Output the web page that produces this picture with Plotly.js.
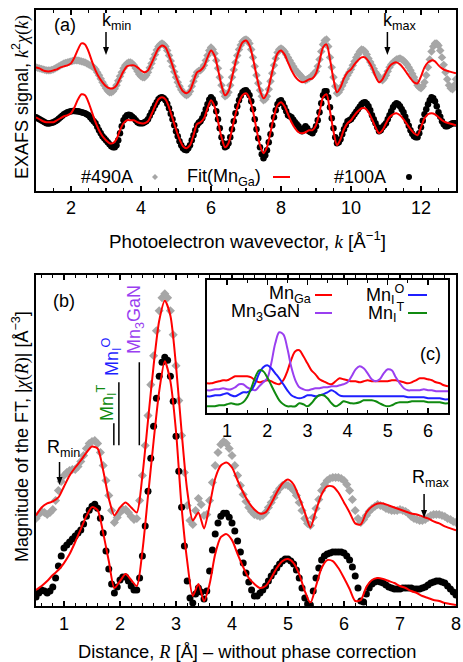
<!DOCTYPE html>
<html><head><meta charset="utf-8">
<script src="https://cdn.plot.ly/plotly-3.0.1.min.js"></script>
<style>body{margin:0;background:#fff}#g{width:463px;height:662px}</style>
</head><body><div id="g"></div>
<script>
// ---------- panel (a): EXAFS k-space ----------
const kData = [1.00,1.05,1.10,1.15,1.20,1.25,1.30,1.35,1.40,1.45,1.50,1.55,1.60,1.65,1.70,1.75,1.80,1.85,1.90,1.95,2.00,2.05,2.10,2.15,2.20,2.25,2.30,2.35,2.40,2.45,2.50,2.55,2.60,2.65,2.70,2.75,2.80,2.85,2.90,2.95,3.00,3.05,3.10,3.15,3.20,3.25,3.30,3.35,3.40,3.45,3.50,3.55,3.60,3.65,3.70,3.75,3.80,3.85,3.90,3.95,4.00,4.05,4.10,4.15,4.20,4.25,4.30,4.35,4.40,4.45,4.50,4.55,4.60,4.65,4.70,4.75,4.80,4.85,4.90,4.95,5.00,5.05,5.10,5.15,5.20,5.25,5.30,5.35,5.40,5.45,5.50,5.55,5.60,5.65,5.70,5.75,5.80,5.85,5.90,5.95,6.00,6.05,6.10,6.15,6.20,6.25,6.30,6.35,6.40,6.45,6.50,6.55,6.60,6.65,6.70,6.75,6.80,6.85,6.90,6.95,7.00,7.05,7.10,7.15,7.20,7.25,7.30,7.35,7.40,7.45,7.50,7.55,7.60,7.65,7.70,7.75,7.80,7.85,7.90,7.95,8.00,8.05,8.10,8.15,8.20,8.25,8.30,8.35,8.40,8.45,8.50,8.55,8.60,8.65,8.70,8.75,8.80,8.85,8.90,8.95,9.00,9.05,9.10,9.15,9.20,9.25,9.30,9.35,9.40,9.45,9.50,9.55,9.60,9.65,9.70,9.75,9.80,9.85,9.90,9.95,10.00,10.05,10.10,10.15,10.20,10.25,10.30,10.35,10.40,10.45,10.50,10.55,10.60,10.65,10.70,10.75,10.80,10.85,10.90,10.95,11.00,11.05,11.10,11.15,11.20,11.25,11.30,11.35,11.40,11.45,11.50,11.55,11.60,11.65,11.70,11.75,11.80,11.85,11.90,11.95,12.00,12.05,12.10,12.15,12.20,12.25,12.30,12.35,12.40,12.45,12.50,12.55,12.60,12.65,12.70,12.75,12.80,12.85,12.90,12.95,13.00];
const sample490A_k = [0.0,-0.05,-0.1,-0.15,-0.2,-0.25,-0.3,-0.3,-0.3,-0.25, -0.2,-0.1,0.0,0.1,0.2,0.3,0.4,0.45,0.5,0.55, 0.6,0.65,0.7,0.7,0.7,0.65,0.6,0.55,0.5,0.4, 0.3,0.2,0.1,0.0,-0.2,-0.5,-0.8,-1.15,-1.5,-1.8, -2.1,-2.35,-2.5,-2.5,-2.4,-2.15,-1.8,-1.35,-0.9,-0.5, -0.1,0.2,0.4,0.5,0.5,0.4,0.2,-0.1,-0.4,-0.7, -0.9,-1.0,-1.0,-0.8,-0.5,-0.05,0.4,0.85,1.3,1.75, 2.1,2.3,2.4,2.3,2.1,1.7,1.2,0.65,0.1,-0.45, -1.0,-1.5,-1.9,-2.25,-2.5,-2.7,-2.8,-2.7,-2.4,-1.9, -1.4,-0.9,-0.5,-0.35,-0.3,-0.1,0.2,0.7,1.2,1.7, 2.0,1.8,1.4,0.7,-0.1,-1.0,-1.8,-2.45,-2.9,-2.8, -2.5,-1.8,-1.0,-0.25,0.5,1.2,1.8,2.25,2.6,2.75, 2.8,2.7,2.4,1.8,1.0,0.1,-0.8,-1.6,-2.3,-2.9, -3.3,-3.2,-2.9,-2.2,-1.4,-0.6,0.2,0.9,1.5,1.8, 1.9,1.8,1.6,1.3,1.0,0.7,0.4,0.1,-0.2,-0.4, -0.6,-0.8,-1.0,-1.2,-1.3,-1.2,-1.1,-0.95,-0.8,-0.6, -0.4,0.1,0.8,1.6,2.3,2.7,2.8,2.1,1.0,0.0, -1.0,-1.9,-2.6,-2.5,-2.2,-1.85,-1.5,-1.15,-0.8,-0.5, -0.2,0.2,0.6,1.0,1.3,1.6,1.8,1.75,1.6,1.3, 0.9,0.55,0.2,-0.15,-0.5,-0.75,-1.0,-1.2,-1.3,-1.1, -0.8,-0.4,0.0,0.3,0.5,0.65,0.8,0.85,0.9,0.8, 0.7,0.5,0.3,0.0,-0.3,-0.65,-1.0,-1.4,-1.8,-2.0, -2.1,-1.9,-1.5,-0.8,0.0,0.8,1.6,2.1,2.4,2.4, 2.2,1.7,1.0,0.25,-0.5,-1.2,-1.8,-2.1,-2.2,-1.8, -1.2];
const sample100A_k = [0.0,-0.1,-0.2,-0.3,-0.4,-0.5,-0.6,-0.62,-0.6,-0.55, -0.5,-0.4,-0.3,-0.15,0.0,0.15,0.3,0.4,0.5,0.55, 0.6,0.62,0.62,0.6,0.6,0.55,0.5,0.45,0.4,0.3, 0.2,0.0,-0.2,-0.4,-0.6,-0.95,-1.3,-1.6,-1.9,-2.1, -2.3,-2.5,-2.7,-2.9,-3.0,-3.0,-2.8,-2.3,-1.6,-0.9, -0.3,0.0,0.2,0.25,0.2,0.05,-0.1,-0.3,-0.5,-0.6, -0.6,-0.6,-0.5,-0.4,-0.2,0.15,0.5,0.85,1.2,1.5, 1.8,1.95,2.0,1.9,1.7,1.35,0.9,0.35,-0.2,-0.8, -1.4,-1.9,-2.4,-2.8,-3.1,-3.25,-3.3,-3.1,-2.8,-2.3, -1.8,-1.3,-0.8,-0.55,-0.4,-0.1,0.3,0.8,1.3,1.75, 2.0,1.8,1.4,0.6,-0.2,-1.1,-2.0,-2.6,-3.0,-2.9, -2.6,-2.0,-1.2,-0.4,0.4,1.1,1.7,2.15,2.5,2.65, 2.7,2.5,2.2,1.6,0.8,-0.2,-1.2,-2.1,-3.0,-3.7, -4.1,-3.8,-3.3,-2.5,-1.7,-0.8,0.0,0.7,1.3,1.6, 1.7,1.4,1.0,0.6,0.2,0.1,0.0,-0.25,-0.5,-0.7, -0.9,-1.2,-1.4,-1.1,-0.9,-1.1,-1.4,-1.5,-1.6,-1.3, -0.9,-0.3,0.5,1.4,2.2,2.6,2.6,2.0,1.0,-0.1, -1.1,-2.0,-2.6,-2.5,-2.2,-1.7,-1.2,-0.8,-0.4,-0.3, -0.2,0.05,0.3,0.55,0.8,1.05,1.3,1.45,1.5,1.35, 1.1,0.7,0.2,-0.2,-0.6,-1.0,-1.4,-1.3,-1.0,-0.8, -0.6,-0.2,0.2,0.6,1.0,1.25,1.4,1.3,1.1,0.8, 0.5,0.05,-0.4,-0.85,-1.3,-1.65,-1.9,-2.0,-2.0,-1.6, -1.0,-0.35,0.3,0.8,1.3,1.7,2.0,1.9,1.6,1.1, 0.5,0.05,-0.4,-0.7,-0.9,-0.9,-0.8,-0.7,-0.6,-0.6, -0.6];
const kFit = [1.0,1.1,1.2,1.3,1.4,1.5,1.6,1.7,1.8,1.9,2.0,2.1,2.2,2.3,2.4,2.5,2.6,2.7,2.8,2.9,3.0,3.1,3.2,3.3,3.4,3.5,3.6,3.7,3.8,3.9,4.0,4.1,4.2,4.3,4.4,4.5,4.6,4.7,4.8,4.9,5.0,5.1,5.2,5.3,5.4,5.5,5.6,5.7,5.8,5.9,6.0,6.1,6.2,6.3,6.4,6.5,6.6,6.7,6.8,6.9,7.0,7.1,7.2,7.3,7.4,7.5,7.6,7.7,7.8,7.9,8.0,8.1,8.2,8.3,8.4,8.5,8.6,8.7,8.8,8.9,9.0,9.1,9.2,9.3,9.4,9.5,9.6,9.7,9.8,9.9,10.0,10.1,10.2,10.3,10.4,10.5,10.6,10.7,10.8,10.9,11.0,11.1,11.2,11.3,11.4,11.5,11.6,11.7,11.8,11.9,12.0,12.1,12.2,12.3,12.4,12.5,12.6,12.7,12.8,12.9,13.0];
const fit490A_k = [0.0,-0.1,-0.3,-0.4,-0.4,-0.3,-0.2,0.0,0.1,0.2, 0.4,1.0,1.8,2.4,2.3,1.6,0.6,-0.3,-1.0,-1.5, -1.9,-2.1,-2.1,-1.8,-1.1,-0.4,0.1,0.2,0.2,0.0, -0.3,-0.5,-0.3,0.4,1.2,1.9,2.2,2.0,1.2,0.2, -0.9,-1.8,-2.4,-2.6,-2.3,-1.4,-0.5,-0.3,0.1,1.0, 1.7,1.2,-0.2,-1.8,-2.8,-2.4,-1.0,0.5,1.7,2.5, 2.7,2.2,0.9,-0.8,-2.3,-3.1,-2.6,-1.2,0.3,1.4, 1.7,1.3,0.5,-0.3,-0.9,-1.3,-1.5,-1.4,-1.2,-1.1, -0.6,0.6,2.0,2.3,0.8,-1.2,-2.5,-2.0,-1.1,-0.5, -0.2,0.3,0.7,1.0,1.0,0.6,0.0,-0.9,-1.5,-1.2, -0.5,0.1,0.4,0.5,0.3,-0.1,-0.6,-1.1,-1.5,-1.6, -0.9,0.0,0.5,0.7,0.6,0.2,-0.1,-0.3,-0.4,-0.5, -0.6];
const fit100A_k = [0.0,-0.2,-0.4,-0.5,-0.5,-0.5,-0.3,-0.1,0.1,0.2, 0.4,1.0,1.8,2.3,2.2,1.5,0.5,-0.5,-1.3,-1.9, -2.3,-2.6,-2.6,-2.2,-1.3,-0.6,-0.3,-0.3,-0.3,-0.5, -0.6,-0.6,-0.4,0.3,1.1,1.8,2.0,1.8,1.0,-0.1, -1.2,-2.2,-2.9,-3.1,-2.8,-1.8,-0.7,-0.5,-0.1,0.9, 1.7,1.1,-0.4,-2.0,-3.0,-2.6,-1.2,0.3,1.5,2.2, 2.4,1.9,0.6,-1.2,-2.8,-3.6,-3.0,-1.5,0.1,1.2, 1.5,1.1,0.3,-0.5,-1.1,-1.5,-1.6,-1.5,-1.3,-1.3, -0.8,0.5,2.0,2.3,0.6,-1.4,-2.8,-2.2,-1.2,-0.6, -0.3,0.2,0.6,0.9,0.9,0.5,-0.2,-1.0,-1.6,-1.3, -0.6,0.0,0.3,0.4,0.2,-0.2,-0.7,-1.2,-1.6,-1.8, -1.0,-0.1,0.3,0.4,0.3,0.0,-0.3,-0.5,-0.6,-0.7, -0.8];
const kMin = 3.0, kMax = 11.04;

// ---------- panel (b): FT magnitude ----------
const rData = [0.5,0.55,0.6,0.65,0.7,0.75,0.8,0.85,0.9,0.95,1.0,1.05,1.1,1.15,1.2,1.25,1.3,1.35,1.4,1.45,1.5,1.55,1.6,1.65,1.7,1.75,1.8,1.85,1.9,1.95,2.0,2.05,2.1,2.15,2.2,2.25,2.3,2.35,2.4,2.45,2.5,2.55,2.6,2.65,2.7,2.75,2.8,2.85,2.9,2.95,3.0,3.05,3.1,3.15,3.2,3.25,3.3,3.35,3.4,3.45,3.5,3.55,3.6,3.65,3.7,3.75,3.8,3.85,3.9,3.95,4.0,4.05,4.1,4.15,4.2,4.25,4.3,4.35,4.4,4.45,4.5,4.55,4.6,4.65,4.7,4.75,4.8,4.85,4.9,4.95,5.0,5.05,5.1,5.15,5.2,5.25,5.3,5.35,5.4,5.45,5.5,5.55,5.6,5.65,5.7,5.75,5.8,5.85,5.9,5.95,6.0,6.05,6.1,6.15,6.2,6.25,6.3,6.35,6.4,6.45,6.5,6.55,6.6,6.65,6.7,6.75,6.8,6.85,6.9,6.95,7.0,7.05,7.1,7.15,7.2,7.25,7.3,7.35,7.4,7.45,7.5,7.55,7.6,7.65,7.7,7.75,7.8,7.85,7.9,7.95,8.0];
const sample490A_R = [1.2,1.6,1.9,1.8,1.6,1.8,2.1,3.0,4.0,4.9, 5.5,5.8,6.0,6.1,6.1,6.4,6.9,7.5,8.2,8.7, 8.9,9.0,8.7,7.8,6.5,5.0,3.5,2.0,0.8,1.3, 1.8,2.1,2.1,1.8,1.4,1.1,1.2,3.0,5.5,8.5, 11.5,14.6,17.5,20.0,22.0,23.3,23.7,23.3,22.0,19.6, 16.5,13.0,9.5,5.8,2.5,1.0,0.6,2.0,3.2,2.6, 1.5,1.6,3.0,4.8,6.5,7.8,8.6,8.9,8.7,8.2, 7.5,6.5,5.5,4.5,3.6,2.9,2.3,1.9,1.6,1.5, 1.4,1.5,1.8,2.3,2.8,3.3,3.8,4.2,4.5,4.6, 4.5,4.3,4.0,3.5,2.8,2.0,1.2,0.7,0.5,1.3, 2.2,3.1,4.0,4.6,5.0,5.2,5.3,5.3,5.3,5.2, 5.0,4.6,4.0,3.1,2.0,1.2,0.8,1.1,1.5,1.9, 2.2,2.4,2.6,2.5,2.4,2.2,2.1,2.0,2.0,2.0, 2.1,2.0,1.9,1.7,1.4,1.2,1.1,1.0,1.0,1.1, 1.3,1.5,1.6,1.6,1.6,1.5,1.4,1.2,1.1,0.9, 0.8];
const sample100A_R = [0.9,1.3,1.6,1.5,1.3,1.5,1.9,2.8,4.0,5.0, 5.8,6.1,6.4,6.7,7.0,7.3,7.6,8.2,9.0,9.6, 10.0,10.2,9.8,8.8,7.3,5.5,3.7,2.2,1.3,1.9, 2.6,2.9,2.9,2.5,2.0,1.6,1.6,2.8,5.0,8.0, 11.5,14.8,18.0,20.8,23.0,24.4,24.9,24.6,23.0,20.5, 17.0,13.5,9.9,6.0,2.5,0.8,0.3,1.2,1.8,1.4, 0.7,1.5,3.5,5.6,7.2,8.3,9.0,9.3,9.3,8.9, 8.3,7.5,6.5,5.4,4.3,3.3,2.4,1.6,1.0,1.0, 1.3,1.6,2.0,2.5,3.0,3.4,3.8,4.2,4.5,4.7, 4.7,4.5,4.2,3.6,2.8,1.8,0.8,0.2,0.1,1.5, 2.8,3.8,4.6,5.0,5.2,5.3,5.4,5.4,5.4,5.4, 5.3,5.0,4.6,3.9,3.0,1.8,0.5,0.4,1.2,1.8, 2.2,2.4,2.5,2.4,2.3,2.1,1.9,1.8,1.7,1.7, 1.7,1.8,1.8,1.8,1.8,1.7,1.7,1.7,1.8,1.9, 2.1,2.3,2.4,2.5,2.5,2.4,2.3,2.0,1.7,1.4, 1.1];
const rFit = [0.5,0.6,0.7,0.8,0.9,1.0,1.1,1.2,1.3,1.4,1.5,1.6,1.7,1.8,1.9,2.0,2.1,2.2,2.3,2.4,2.5,2.6,2.7,2.8,2.9,3.0,3.1,3.2,3.3,3.4,3.5,3.6,3.7,3.8,3.9,4.0,4.1,4.2,4.3,4.4,4.5,4.6,4.7,4.8,4.9,5.0,5.1,5.2,5.3,5.4,5.5,5.6,5.7,5.8,5.9,6.0,6.1,6.2,6.3,6.4,6.5,6.6,6.7,6.8,6.9,7.0,7.1,7.2,7.3,7.4,7.5,7.6,7.7,7.8,7.9,8.0];
const fit490A_R = [1.5,2.3,2.7,2.9,3.3, 4.4,5.5,6.3,7.0,7.8,8.4,8.2,6.0,3.2,1.5, 2.3,2.8,2.3,1.8,5.5,11.0,16.5,21.0,23.0,21.5, 16.5,9.9,4.0,1.0,1.8,0.2,2.5,5.2,6.5,6.8, 6.3,5.0,3.8,2.8,2.1,1.7,1.8,2.7,3.8,4.7, 5.1,4.6,3.3,1.8,0.3,2.0,3.6,4.4,4.4,3.8, 2.8,1.8,0.7,0.6,1.8,2.4,2.7,2.7,2.5,2.3, 2.1,1.9,1.7,1.6,1.4,1.2,0.9,0.7,0.4,0.2, 0.0];
const fit100A_R = [1.6,2.0,2.5,3.1,3.6, 4.3,5.2,6.4,7.7,9.0,9.9,9.6,7.3,4.5,1.8, 2.5,3.2,2.6,2.0,5.5,11.0,16.5,21.5,24.5,22.5, 17.5,9.9,4.5,1.0,2.2,0.5,2.2,5.2,6.9,7.2, 6.6,5.2,3.9,2.8,2.2,1.8,2.0,2.8,3.8,4.5, 4.7,4.3,3.2,1.5,0.3,2.0,3.8,4.6,4.5,3.8, 2.8,1.7,0.5,0.6,1.9,2.6,2.8,2.7,2.5,2.3, 2.0,1.8,1.5,1.3,1.0,0.8,0.6,0.5,0.3,0.2, 0.1];
const rMin = 0.92, rMax = 7.43;
const siteR = [1.89, 1.98, 2.345];           // Mn_I^T, Mn_I^O, Mn3GaN markers
const siteTop = [18.3, 22.4, 24.4];

// ---------- panel (c): simulated standards ----------
const rC = [0.5,0.6,0.7,0.8,0.9,1.0,1.1,1.2,1.3,1.4,1.5,1.6,1.7,1.8,1.9,2.0,2.1,2.2,2.3,2.4,2.5,2.6,2.7,2.8,2.9,3.0,3.1,3.2,3.3,3.4,3.5,3.6,3.7,3.8,3.9,4.0,4.1,4.2,4.3,4.4,4.5,4.6,4.7,4.8,4.9,5.0,5.1,5.2,5.3,5.4,5.5,5.6,5.7,5.8,5.9,6.0,6.1,6.2,6.3,6.4,6.5];
const stdMnGa = [3.0,3.0,3.1,3.2,3.3,3.3,3.5,3.7,3.7,3.7,3.7,3.6,3.3,3.1,3.2,3.3,3.2,3.0,2.9,3.3,4.2,5.4,6.2,6.3,5.7,5.0,4.3,3.9,3.4,3.2,3.0,2.9,3.2,3.5,3.4,3.3,3.2,3.2,3.1,3.2,3.3,3.2,3.2,3.2,3.2,3.2,3.3,3.3,3.2,3.1,3.0,3.1,3.3,3.5,3.5,3.4,3.3,3.1,3.0,2.8,2.7];
const stdMn3GaN = [2.3,2.3,2.4,2.4,2.5,2.4,2.4,2.6,2.9,2.9,2.6,2.4,2.3,2.7,3.1,3.5,5.0,7.0,8.1,7.9,6.5,4.6,3.3,2.6,2.4,2.3,2.4,2.5,2.5,2.6,2.6,2.7,2.7,2.8,2.9,3.1,3.7,4.4,4.7,4.5,4.0,3.4,3.2,3.4,4.0,4.4,4.3,3.6,3.0,2.5,2.3,2.3,2.3,2.3,2.4,2.3,2.3,2.2,2.2,2.2,2.2];
const stdMnIO = [1.7,1.7,1.8,1.8,1.9,2.0,1.8,1.7,1.9,2.1,2.1,2.3,3.0,4.0,4.6,4.8,4.5,4.0,3.5,2.9,2.3,1.8,1.6,1.5,1.6,1.8,1.8,1.7,1.8,1.9,2.1,2.3,2.1,1.8,1.7,1.7,1.7,1.7,1.7,1.7,1.7,1.7,1.7,1.7,1.7,1.7,1.7,1.7,1.7,1.7,1.6,1.6,1.6,1.6,1.6,1.5,1.5,1.5,1.5,1.4,1.4];
const stdMnIT = [0.7,0.7,0.7,0.8,0.8,0.9,1.0,0.9,0.9,1.1,1.6,2.5,3.6,4.3,4.2,3.6,2.8,2.0,1.3,0.9,0.7,0.7,0.7,1.0,0.9,0.7,1.0,1.5,1.8,1.8,1.5,1.0,0.7,0.9,1.2,1.1,1.0,1.0,1.1,1.3,1.3,1.3,1.2,1.0,0.8,0.7,0.8,1.0,1.1,1.1,1.1,1.2,1.2,1.2,1.2,1.1,1.1,1.1,1.1,1.0,1.0];

// ---------- styling / layout ----------
const offA = {top: 12.35, bottom: 7.35};
const offB = {top: 7.57, bottom: 0};
const RED = '#ff0000', GRAY = '#a6a6a6', PURPLE = '#9a3ff0', BLUE = '#1f1fff', GREEN = '#108a10';
const FONT = 'Liberation Sans, Arial, sans-serif';
const SERIF = 'font-family:Liberation Serif';
const FS = 18;
const add = (arr, o) => arr.map(v => v + o);

const traces = [
  {x: kData, y: add(sample490A_k, offA.top), xaxis:'x', yaxis:'y', mode:'markers', marker:{symbol:'diamond', size:6.5, color:GRAY}},
  {x: kData, y: add(sample100A_k, offA.bottom), xaxis:'x', yaxis:'y', mode:'markers', marker:{symbol:'circle', size:6.5, color:'#000'}},
  {x: kFit, y: add(fit490A_k, offA.top), xaxis:'x', yaxis:'y', mode:'lines', line:{color:RED, width:2, shape:'spline', smoothing:0.8}},
  {x: kFit, y: add(fit100A_k, offA.bottom), xaxis:'x', yaxis:'y', mode:'lines', line:{color:RED, width:2, shape:'spline', smoothing:0.8}},

  {x: rData, y: add(sample490A_R, offB.top), xaxis:'x2', yaxis:'y2', mode:'markers', marker:{symbol:'diamond', size:7, color:GRAY}},
  {x: rData, y: add(sample100A_R, offB.bottom), xaxis:'x2', yaxis:'y2', mode:'markers', marker:{symbol:'circle', size:7, color:'#000'}},
  {x: rFit, y: add(fit490A_R, offB.top), xaxis:'x2', yaxis:'y2', mode:'lines', line:{color:RED, width:2, shape:'spline', smoothing:0.7}},
  {x: rFit, y: add(fit100A_R, offB.bottom), xaxis:'x2', yaxis:'y2', mode:'lines', line:{color:RED, width:2, shape:'spline', smoothing:0.7}},

  {x: rC, y: stdMnGa, xaxis:'x3', yaxis:'y3', mode:'lines', line:{color:RED, width:2, shape:'spline'}},
  {x: rC, y: stdMn3GaN, xaxis:'x3', yaxis:'y3', mode:'lines', line:{color:PURPLE, width:2, shape:'spline'}},
  {x: rC, y: stdMnIO, xaxis:'x3', yaxis:'y3', mode:'lines', line:{color:BLUE, width:2, shape:'spline'}},
  {x: rC, y: stdMnIT, xaxis:'x3', yaxis:'y3', mode:'lines', line:{color:GREEN, width:2, shape:'spline'}}
];

// pixel -> paper helpers (plot area: x 36..456, y 10..606)
const PX = x => (x - 36) / 420;
const PY = y => (606 - y) / 596;

const frameAxis = (extra) => Object.assign({
  showline:true, mirror:true, linecolor:'#000', linewidth:2, showgrid:false, zeroline:false,
  ticks:'inside', tickcolor:'#000', tickwidth:1.3, ticklen:5,
  tickfont:{family:FONT, size:FS, color:'#000'}
}, extra);

const layout = {
  width:463, height:662, showlegend:false,
  margin:{l:36, r:7, t:10, b:56},
  paper_bgcolor:'#fff', plot_bgcolor:'#fff',
  font:{family:FONT, size:FS, color:'#000'},
  xaxis: frameAxis({domain:[0,1], range:[1,13], dtick:2, tick0:0, anchor:'y', mirror:'ticks',
    minor:{dtick:0.5, ticklen:3, ticks:'inside', tickcolor:'#000'}}),
  yaxis: frameAxis({domain:[0.697,1], range:[0,18.1], showticklabels:false, ticks:'', anchor:'x'}),
  xaxis2: frameAxis({domain:[0,1], range:[0.5,8], dtick:1, tick0:0, anchor:'y2', mirror:'ticks',
    minor:{dtick:0.2, ticklen:3, ticks:'inside', tickcolor:'#000'}}),
  yaxis2: frameAxis({domain:[0,0.5557], range:[0,33.17], showticklabels:false, ticks:'', anchor:'x2'}),
  xaxis3: frameAxis({domain:[PX(207),PX(448)], range:[0.5,6.5], dtick:1, tick0:0, anchor:'y3', mirror:'ticks',
    minor:{dtick:0.5, ticklen:3, ticks:'inside', tickcolor:'#000'}}),
  yaxis3: frameAxis({domain:[PY(413.3),PY(280)], range:[0,13.33], showticklabels:false, ticks:'', anchor:'x3'}),
  shapes: [], annotations: []
};

const S = layout.shapes, A = layout.annotations;
const txt = (text, x, y, o) => A.push(Object.assign({text, x:PX(x), y:PY(y), xref:'paper', yref:'paper',
  showarrow:false, xanchor:'center', yanchor:'middle', font:{family:FONT, size:FS, color:'#000'}}, o || {}));

// panel labels
txt('(a)', 65, 25);
txt('(b)', 64, 301);
txt('(c)', 430, 354);
// axis titles
txt('Photoelectron wavevector, <span style="' + SERIF + '"><i>k</i></span> [Å<sup>−1</sup>]', 247, 240, {font:{family:FONT, size:18.8, color:'#000'}});
txt('Distance, <span style="' + SERIF + '"><i>R</i></span> [Å] – without phase correction', 247, 651, {font:{family:FONT, size:18.3, color:'#000'}});
txt('EXAFS signal, <span style="' + SERIF + '"><i>k</i></span><sup>2</sup><span style="' + SERIF + '"><i>χ</i>(<i>k</i>)</span>', 21, 97, {textangle:-90});
txt('Magnitude of the FT, |<span style="' + SERIF + '"><i>χ</i>(<i>R</i>)</span>| [Å<sup>−3</sup>]', 21, 437, {textangle:-90});

// k / R window markers
txt('k<sub>min</sub>', 116, 22);
txt('k<sub>max</sub>', 399, 22);
txt('R<sub>min</sub>', 63, 448);
txt('R<sub>max</sub>', 430, 478);
// arrows drawn as shapes: line + filled head, x in data units, y in pixels
const arrow = (xr, x, yTail, yTip) => {
  S.push({type:'line', xref:xr, yref:'paper', x0:x, x1:x, y0:PY(yTail), y1:PY(yTip - 6), line:{color:'#000', width:1.5}});
  S.push({type:'path', xref:xr, yref:'paper', xsizemode:'pixel', xanchor:x,
    path:`M -3 ${PY(yTip - 8)} L 3 ${PY(yTip - 8)} L 0 ${PY(yTip)} Z`, fillcolor:'#000', line:{width:0}});
};
arrow('x', kMin, 32, 55);
arrow('x', kMax, 32, 55);
arrow('x2', rMin, 462, 485);
arrow('x2', rMax, 494, 518);

// site markers in (b)
siteR.forEach((r, i) => S.push({type:'line', xref:'x2', yref:'y2', x0:r, x1:r, y0:16.1, y1:siteTop[i], line:{color:'#000', width:1.5}}));
txt('Mn<sub>I</sub><sup>T</sup>', 106, 403, {textangle:-90, font:{family:FONT, size:FS, color:GREEN}});
txt('Mn<sub>I</sub><sup>O</sup>', 111, 357, {textangle:-90, font:{family:FONT, size:FS, color:BLUE}});
txt('Mn<sub>3</sub>GaN', 135, 320, {textangle:-90, font:{family:FONT, size:FS, color:PURPLE}});

// legend (a)
txt('#490A', 135, 177, {xanchor:'right'});
S.push({type:'path', xref:'paper', yref:'paper', path:`M ${PX(155)} ${PY(174)} L ${PX(158)} ${PY(177)} L ${PX(155)} ${PY(180)} L ${PX(152)} ${PY(177)} Z`, fillcolor:GRAY, line:{width:0}});
txt('Fit(Mn<sub>Ga</sub>)', 263, 177, {xanchor:'right'});
S.push({type:'line', xref:'paper', yref:'paper', x0:PX(273), x1:PX(290), y0:PY(177), y1:PY(177), line:{color:RED, width:2}});
txt('#100A', 388, 177, {xanchor:'right'});
S.push({type:'circle', xref:'paper', yref:'paper', x0:PX(406), x1:PX(412), y0:PY(180), y1:PY(174), fillcolor:'#000', line:{width:0}});

// legend (c)
txt('Mn<sub>Ga</sub>', 313, 294, {xanchor:'right'});
txt('Mn<sub>3</sub>GaN', 302, 312, {xanchor:'right'});
txt('Mn<sub>I</sub><sup>O</sup>', 407, 294, {xanchor:'right'});
txt('Mn<sub>I</sub><sup>T</sup>', 407, 312, {xanchor:'right'});
[[315,332,295,RED],[315,332,313,PURPLE],[408,427,295,BLUE],[408,427,313,GREEN]].forEach(l =>
  S.push({type:'line', xref:'paper', yref:'paper', x0:PX(l[0]), x1:PX(l[1]), y0:PY(l[2]), y1:PY(l[2]), line:{color:l[3], width:2}}));

Plotly.newPlot('g', traces, layout, {staticPlot:true});
</script></body></html>
